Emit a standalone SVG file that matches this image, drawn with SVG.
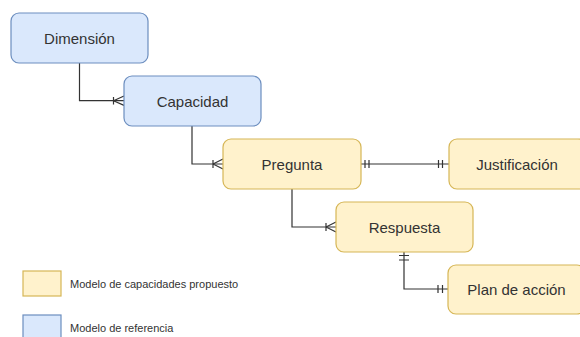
<svg xmlns="http://www.w3.org/2000/svg" width="580" height="337" viewBox="0 0 580 337">
<style>
.blue{fill:#dae8fc;stroke:#6c8ebf;stroke-width:1.2}
.yel{fill:#fff2cc;stroke:#d6b656;stroke-width:1.2}
.lbl{font-family:"Liberation Sans",Arial,sans-serif;font-size:15px;fill:#333;text-anchor:middle}
.leg{font-family:"Liberation Sans",Arial,sans-serif;font-size:11px;fill:#333}
.ln{fill:none;stroke:#333;stroke-width:1.2}
</style>
<rect width="580" height="337" fill="#fff"/>
<g id="connectors" class="ln">
  <path d="M79.5,63 V100.7 H124"/>
  <path d="M113.5,97 V104.5 M113.5,100.7 L124,96 M113.5,100.7 L124,105.4"/>
  <path d="M192,126 V164 H223"/>
  <path d="M213,160 V168 M213,164 L223,159 M213,164 L223,169"/>
  <path d="M361,164 H449"/>
  <path d="M365,160 V168 M369,160 V168 M438.5,160 V168 M442.5,160 V168"/>
  <path d="M292,189 V227 H336"/>
  <path d="M326,223 V231 M326,227 L336,222 M326,227 L336,232"/>
  <path d="M404,252 V289 H448"/>
  <path d="M399,255.5 H409 M399,260 H409 M438,285 V293 M442.5,285 V293"/>
</g>
<g id="dimension"><rect class="blue" x="11" y="13" width="137" height="50" rx="8"/><text class="lbl" x="79.5" y="43.5">Dimensión</text></g>
<g id="capacidad"><rect class="blue" x="124" y="76" width="137" height="50" rx="8"/><text class="lbl" x="192.5" y="106.5">Capacidad</text></g>
<g id="pregunta"><rect class="yel" x="223" y="139" width="138" height="50" rx="8"/><text class="lbl" x="292" y="169.5">Pregunta</text></g>
<g id="justificacion"><rect class="yel" x="449" y="139" width="137" height="50" rx="8"/><text class="lbl" x="517" y="169.5">Justificación</text></g>
<g id="respuesta"><rect class="yel" x="336" y="202" width="137" height="50" rx="8"/><text class="lbl" x="404.5" y="232.5">Respuesta</text></g>
<g id="plan"><rect class="yel" x="448" y="265" width="137" height="49" rx="8"/><text class="lbl" x="516.5" y="295">Plan de acción</text></g>
<g id="legend">
  <rect class="yel" x="23" y="271" width="38" height="25"/>
  <text class="leg" x="70" y="288">Modelo de capacidades propuesto</text>
  <rect class="blue" x="23" y="315" width="38" height="30"/>
  <text class="leg" x="70" y="332">Modelo de referencia</text>
</g>
</svg>
